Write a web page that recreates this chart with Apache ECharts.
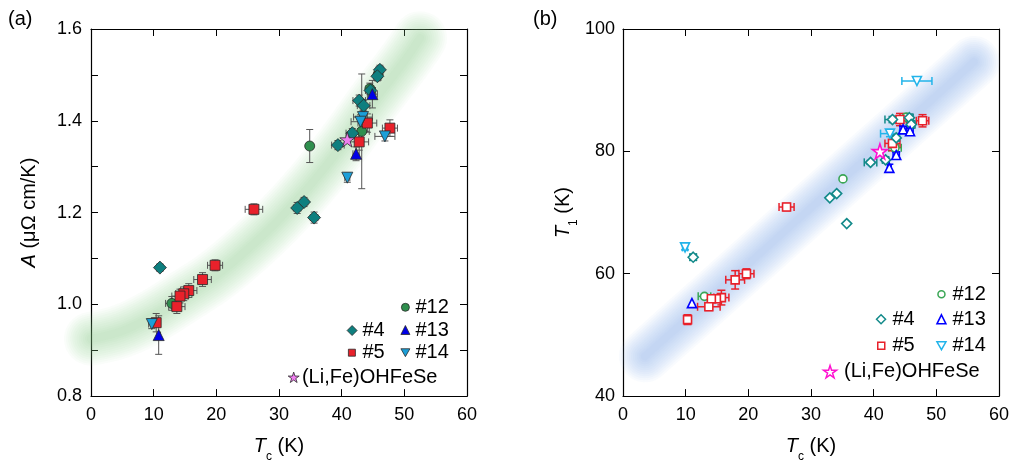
<!DOCTYPE html>
<html><head><meta charset="utf-8">
<script src="https://cdn.jsdelivr.net/npm/echarts@6/dist/echarts.min.js"></script>
<style>html,body{margin:0;padding:0;background:#fff}#c{width:1016px;height:468px}</style>
</head><body><div id="c"></div>
<script>
// ---------- DATA ----------
// Panel (a): [Tc (K), A (μΩ cm/K), Tc error, A error]
const a4 = [[46.1,1.511,0.6,0.010],[45.7,1.497,0.6,0.010],[44.6,1.466,0.8,0.010],[42.8,1.444,1.0,0.012],[43.5,1.433,1.0,0.012],[41.7,1.373,1.0,0.010],[39.4,1.347,1.0,0.010],[34.0,1.223,0.6,0.010],[32.9,1.210,0.6,0.012],[35.6,1.189,0.6,0.012],[11.0,1.080,0.5,0.008]];
const a5 = [[47.7,1.384,1.2,0.018],[44.1,1.395,1.5,0.020],[42.8,1.354,1.5,0.018],[26.0,1.207,1.4,0.012],[19.8,1.085,1.2,0.012],[17.8,1.054,1.4,0.015],[15.6,1.030,1.3,0.015],[14.8,1.023,1.3,0.015],[14.2,1.018,1.3,0.015],[13.7,0.995,1.3,0.015],[10.4,0.960,0.6,0.020]];
const a12 = [[45.8,1.500,0.6,0.012],[44.5,1.470,0.6,0.012],[43.2,1.377,1.2,0.125],[34.9,1.345,0.5,0.036],[12.9,1.002,1.0,0.015]];
const a13 = [[44.9,1.458,0.8,0.030],[42.3,1.328,0.5,0.015],[10.8,0.933,0.3,0.042]];
const a14 = [[43.4,1.408,1.5,0.015],[43.0,1.398,1.5,0.015],[46.9,1.366,1.6,0.010],[40.9,1.276,0.4,0.010],[9.7,0.957,0.5,0.010]];
const aStar = [[40.9,1.359]];
const aGuide = [[0,0.925],[5,0.942],[10,0.975],[15,1.018],[20,1.063],[25,1.12],[30,1.185],[35,1.26],[40,1.345],[45,1.44],[50,1.53],[52.5,1.58]];

// Panel (b): [Tc (K), T1 (K), Tc error, T1 error]
const b4 = [[43.0,85.2,1.2,0.5],[45.7,85.5,0.6,0.6],[46.0,84.4,0.6,0.6],[43.6,82.2,0.5,0.5],[39.5,78.2,1.0,0.3],[41.9,78.6,0.5,0.3],[34.1,73.1,0,0],[33.0,72.4,0,0],[35.7,68.2,0,0],[11.2,62.7,0.5,0.5]];
const b5 = [[44.2,85.2,1.0,1.0],[47.8,85.0,1.0,1.0],[43.0,81.3,1.2,1.2],[26.1,70.9,1.2,0.6],[19.7,60.0,1.2,0.8],[17.9,59.0,1.5,1.5],[15.7,56.1,1.2,1.2],[14.9,55.9,0.8,0.6],[14.1,55.9,0.6,0.6],[13.7,54.6,1.8,0.6],[10.3,52.5,0.5,0.8]];
const b12 = [[43.4,80.6,1.0,0.5],[45.2,85.6,0.5,0.5],[35.1,75.5,0,0],[13.0,56.3,1.0,0]];
const b13 = [[44.7,83.6,0.5,0.5],[45.8,83.3,0.5,0.5],[43.6,79.4,0.5,0.5],[42.5,77.3,0.3,0.6],[11.0,55.2,0,0]];
const b14 = [[46.9,91.5,2.4,0],[42.6,82.9,1.5,0.5],[9.9,64.3,0.4,0.4]];
const bStar = [[41.0,80.0]];
const bGuide = [[3.5,46.5],[15,57],[30,70.8],[45,84.5],[56,94.6]];

const panelLabels = ['(a)','(b)'];

// ---------- STYLE ----------
const FF = '"Liberation Sans", Arial, Helvetica, sans-serif';
const STAR = 'path://M0,-1 L0.2245,-0.309 L0.951,-0.309 L0.363,0.118 L0.588,0.809 L0,0.382 L-0.588,0.809 L-0.363,0.118 L-0.951,-0.309 L-0.2245,-0.309 Z';
const TRI_DOWN = 'path://M0,0 L2,0 L1,1.75 Z';
const colA = {'#4':'#0e7f7f','#5':'#e8212b','#12':'#2f8f4e','#13':'#0000e6','#14':'#1c9fd8','(Li,Fe)OHFeSe':'#f07ef0'};
const colB = {'#4':'#138a8a','#5':'#e8212b','#12':'#3aa655','#13':'#0000ff','#14':'#22b4ea','(Li,Fe)OHFeSe':'#ff10d0'};
const symA = {'#4':['diamond',13,0],'#5':['rect',10,0],'#12':['circle',10,0],'#13':['triangle',11,0],'#14':['triangle',11,180],'(Li,Fe)OHFeSe':[STAR,15,0]};
const symB = {'#4':['diamond',10,0],'#5':['rect',8,0],'#12':['circle',8,0],'#13':['triangle',9,0],'#14':['triangle',9,180],'(Li,Fe)OHFeSe':[STAR,15,0]};
const legIcon = {'#4':'diamond','#5':'rect','#12':'circle','#13':'triangle','#14':TRI_DOWN,'(Li,Fe)OHFeSe':STAR};

function errRender(color, width, cap) {
  return function (params, api) {
    const x = api.value(0), y = api.value(1), xe = api.value(2), ye = api.value(3);
    const st = {stroke: color, lineWidth: width, fill: null};
    const ch = [];
    const L = (x1,y1,x2,y2) => ch.push({type:'line', shape:{x1,y1,x2,y2}, style:st});
    if (xe > 0) {
      const p1 = api.coord([x - xe, y]), p2 = api.coord([x + xe, y]);
      L(p1[0],p1[1],p2[0],p2[1]);
      L(p1[0],p1[1]-cap,p1[0],p1[1]+cap);
      L(p2[0],p2[1]-cap,p2[0],p2[1]+cap);
    }
    if (ye > 0) {
      const p1 = api.coord([x, y - ye]), p2 = api.coord([x, y + ye]);
      L(p1[0],p1[1],p2[0],p2[1]);
      L(p1[0]-cap,p1[1],p1[0]+cap,p1[1]);
      L(p2[0]-cap,p2[1],p2[0]+cap,p2[1]);
    }
    return {type:'group', children: ch};
  };
}

const series = [];
function addGuide(data, ax, rgb, wMax, wMin, n, alpha) {
  for (let k = 0; k < n; k++) {
    const w = wMax - (wMax - wMin) * k / (n - 1);
    series.push({type:'line', xAxisIndex:ax, yAxisIndex:ax, data:data, smooth:0.4, showSymbol:false, silent:true, z:1,
      lineStyle:{width:w, color:'rgba(' + rgb + ',' + alpha + ')', cap:'round', join:'round'}});
  }
}
addGuide(aGuide, 0, '150,205,135', 54, 8, 12, 0.045);
addGuide(bGuide, 2, '140,185,228', 52, 8, 12, 0.05);

function addSet(name, data, ax, filled) {
  const c = filled ? colA[name] : colB[name];
  const s = filled ? symA[name] : symB[name];
  if (data[0].length > 2) {
    series.push({type:'custom', name:'err'+ax+name, xAxisIndex:ax, yAxisIndex:ax, z:2, silent:true,
      renderItem: filled ? errRender('#555', 1, 3.5) : errRender(c, 1.5, 4),
      encode:{x:0, y:1}, data:data});
  }
  series.push({type:'scatter', name:name, xAxisIndex:ax, yAxisIndex:ax, z:3,
    symbol:s[0], symbolSize:s[1], symbolRotate:s[2], data:data.map(d => [d[0], d[1]]),
    itemStyle: filled ? {color:c, borderColor:'#2a2a2a', borderWidth:0.8, opacity:1}
                      : {color:'#ffffff', borderColor:c, borderWidth:1.6, opacity:1}});
}
[['#12',a12],['#5',a5],['#4',a4],['#14',a14],['#13',a13],['(Li,Fe)OHFeSe',aStar]].forEach(p => addSet(p[0], p[1], 0, true));
[['#12',b12],['#5',b5],['#4',b4],['#14',b14],['#13',b13],['(Li,Fe)OHFeSe',bStar]].forEach(p => addSet(p[0], p[1], 2, false));

// one legend component per entry: [name, icon centre x, centre y, icon size, text start x]
function legendItem(name, filled, cx, cy, size, tx) {
  const pad = tx - (cx + size / 2) - 5;
  return {left:cx - size / 2, top:cy - 12, orient:'vertical', padding:0, itemGap:0, itemWidth:size, itemHeight:size, selectedMode:false,
    textStyle:{fontSize:20, lineHeight:24, color:'#000', fontFamily:FF, padding:[0,0,0,pad]},
    data:[{name:name, icon:legIcon[name],
      itemStyle: filled ? {color:colA[name], borderColor:'#2a2a2a', borderWidth:0.8}
                        : {color:'#ffffff', borderColor:colB[name], borderWidth:1.5}}]};
}
const legends = [
  legendItem('#12', true, 405, 307.3, 8, 415),
  legendItem('#13', true, 405, 330.0, 9, 415),
  legendItem('#14', true, 405, 352.7, 9, 415),
  legendItem('#4', true, 351.7, 330.5, 10, 362),
  legendItem('#5', true, 351.5, 352.7, 7, 362),
  legendItem('(Li,Fe)OHFeSe', true, 293.3, 377.3, 11, 301.5),
  legendItem('#12', false, 940.7, 294.3, 7, 951.7),
  legendItem('#13', false, 940.7, 319.3, 9, 951.7),
  legendItem('#14', false, 940.7, 345.7, 9, 951.7),
  legendItem('#4', false, 880.3, 319.3, 9, 891.7),
  legendItem('#5', false, 880.5, 345.7, 7, 891.7),
  legendItem('(Li,Fe)OHFeSe', false, 829.3, 371.7, 13, 843.3)
];

const tickCommon = {inside:true, length:7, lineStyle:{color:'#000', width:1}};
const lineCommon = {show:true, onZero:false, lineStyle:{color:'#000', width:1.2}};
const labCommon = {fontSize:18, color:'#000', fontFamily:FF};
const nameStyle = {fontSize:20, lineHeight:34, color:'#000', fontFamily:FF,
  rich:{i:{fontStyle:'italic', fontSize:20, lineHeight:34, fontFamily:FF, color:'#000'},
        s:{fontSize:12, lineHeight:12, verticalAlign:'bottom', fontFamily:FF, color:'#000'}}};

function xAxes(g) {
  return [
    {gridIndex:g, type:'value', min:0, max:60, interval:10, position:'bottom', axisLine:lineCommon, axisTick:tickCommon,
     axisLabel:Object.assign({margin:10}, labCommon), splitLine:{show:false},
     name:'{i|T}{s|c} (K)', nameLocation:'middle', nameGap:22, nameTextStyle:nameStyle},
    {gridIndex:g, type:'value', min:0, max:60, interval:10, position:'top', axisLine:lineCommon, axisTick:tickCommon,
     axisLabel:{show:false}, splitLine:{show:false}}
  ];
}

const option = {
  animation:false,
  backgroundColor:'#fff',
  textStyle:{fontFamily:FF},
  grid:[{left:91, top:29, width:376, height:377}, {left:623, top:29, width:376, height:377}],
  xAxis: xAxes(0).concat(xAxes(1)),
  yAxis: [
    {gridIndex:0, type:'value', min:0.8, max:1.6, interval:0.2, position:'left', axisLine:lineCommon, axisTick:tickCommon,
     minorTick:{show:true, splitNumber:2, length:7, lineStyle:{color:'#000', width:1}},
     axisLabel:Object.assign({margin:9, formatter:v => v.toFixed(1)}, labCommon), splitLine:{show:false}, minorSplitLine:{show:false},
     name:'{i|A} (μΩ cm/K)', nameLocation:'middle', nameGap:50,
     nameTextStyle:{fontSize:20, lineHeight:24, color:'#000', fontFamily:FF, rich:{i:{fontStyle:'italic', fontSize:20, lineHeight:24, fontFamily:FF, color:'#000'}}}},
    {gridIndex:0, type:'value', min:0.8, max:1.6, interval:0.2, position:'right', axisLine:lineCommon, axisTick:tickCommon,
     minorTick:{show:true, splitNumber:2, length:7, lineStyle:{color:'#000', width:1}},
     axisLabel:{show:false}, splitLine:{show:false}, minorSplitLine:{show:false}},
    {gridIndex:1, type:'value', min:40, max:100, interval:20, position:'left', axisLine:lineCommon, axisTick:tickCommon,
     axisLabel:Object.assign({margin:8}, labCommon), splitLine:{show:false},
     name:'{i|T}{s|1} (K)', nameLocation:'middle', nameGap:43, nameTextStyle:nameStyle},
    {gridIndex:1, type:'value', min:40, max:100, interval:20, position:'right', axisLine:lineCommon, axisTick:tickCommon,
     axisLabel:{show:false}, splitLine:{show:false}}
  ],
  legend: legends,
  graphic: [
    {type:'text', left:8, top:9, style:{text:panelLabels[0], fontSize:20, fill:'#000', fontFamily:FF}},
    {type:'text', left:533, top:9, style:{text:panelLabels[1], fontSize:20, fill:'#000', fontFamily:FF}}
  ],
  series: series
};
const chart = echarts.init(document.getElementById('c'), null, {renderer:'canvas'});
chart.setOption(option);
</script></body></html>
